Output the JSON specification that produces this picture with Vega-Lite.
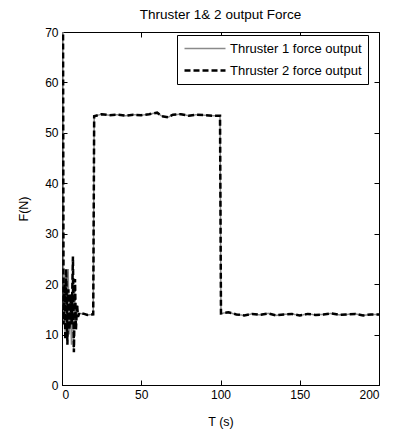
{
  "$schema": "https://vega.github.io/schema/vega-lite/v6.json",
  "autosize": {"type": "none"},
  "width": 317,
  "height": 353,
  "padding": {"left": 62, "top": 32, "right": 14, "bottom": 47},
  "background": "white",
  "config": {
    "font": "Liberation Sans",
    "view": {"stroke": "black", "strokeWidth": 1},
    "axis": {"grid": false, "domainColor": "black", "tickColor": "black", "labelColor": "black", "titleColor": "black", "labelFont": "Liberation Sans", "titleFont": "Liberation Sans", "labelFontSize": 12, "titleFontSize": 12.5, "titleFontWeight": "normal", "tickSize": -5}
  },
  "title": {"text": "Thruster 1& 2 output Force", "fontSize": 13.5, "fontWeight": "normal", "font": "Liberation Sans", "color": "black", "offset": 5},
  "data": {"values": [
    {"s": "Thruster 1 force output", "t": 0, "f": 80},
    {"s": "Thruster 1 force output", "t": 0.5, "f": 80},
    {"s": "Thruster 1 force output", "t": 0.9, "f": 15},
    {"s": "Thruster 1 force output", "t": 1.4, "f": 22},
    {"s": "Thruster 1 force output", "t": 2.0, "f": 10},
    {"s": "Thruster 1 force output", "t": 2.6, "f": 20},
    {"s": "Thruster 1 force output", "t": 3.2, "f": 9},
    {"s": "Thruster 1 force output", "t": 3.9, "f": 23},
    {"s": "Thruster 1 force output", "t": 4.5, "f": 10},
    {"s": "Thruster 1 force output", "t": 5.2, "f": 17},
    {"s": "Thruster 1 force output", "t": 6.0, "f": 8},
    {"s": "Thruster 1 force output", "t": 6.6, "f": 22},
    {"s": "Thruster 1 force output", "t": 7.3, "f": 7},
    {"s": "Thruster 1 force output", "t": 7.9, "f": 19},
    {"s": "Thruster 1 force output", "t": 8.6, "f": 12},
    {"s": "Thruster 1 force output", "t": 9.2, "f": 15},
    {"s": "Thruster 1 force output", "t": 9.9, "f": 14},
    {"s": "Thruster 1 force output", "t": 11, "f": 14.2},
    {"s": "Thruster 1 force output", "t": 14, "f": 14.1},
    {"s": "Thruster 1 force output", "t": 16, "f": 13.9},
    {"s": "Thruster 1 force output", "t": 19.7, "f": 14},
    {"s": "Thruster 1 force output", "t": 20.3, "f": 53.3},
    {"s": "Thruster 1 force output", "t": 25, "f": 53.7},
    {"s": "Thruster 1 force output", "t": 30, "f": 53.5},
    {"s": "Thruster 1 force output", "t": 35, "f": 53.6},
    {"s": "Thruster 1 force output", "t": 40, "f": 53.4},
    {"s": "Thruster 1 force output", "t": 45, "f": 53.6},
    {"s": "Thruster 1 force output", "t": 50, "f": 53.5},
    {"s": "Thruster 1 force output", "t": 55, "f": 53.7},
    {"s": "Thruster 1 force output", "t": 60, "f": 54},
    {"s": "Thruster 1 force output", "t": 63, "f": 53.3},
    {"s": "Thruster 1 force output", "t": 67, "f": 53.1},
    {"s": "Thruster 1 force output", "t": 70, "f": 53.6},
    {"s": "Thruster 1 force output", "t": 75, "f": 53.7},
    {"s": "Thruster 1 force output", "t": 80, "f": 53.4},
    {"s": "Thruster 1 force output", "t": 85, "f": 53.6},
    {"s": "Thruster 1 force output", "t": 90, "f": 53.5},
    {"s": "Thruster 1 force output", "t": 95, "f": 53.4},
    {"s": "Thruster 1 force output", "t": 99.7, "f": 53.4},
    {"s": "Thruster 1 force output", "t": 100.3, "f": 14.2},
    {"s": "Thruster 1 force output", "t": 105, "f": 14.4},
    {"s": "Thruster 1 force output", "t": 110, "f": 14},
    {"s": "Thruster 1 force output", "t": 115, "f": 13.8},
    {"s": "Thruster 1 force output", "t": 120, "f": 14.1},
    {"s": "Thruster 1 force output", "t": 125, "f": 13.9},
    {"s": "Thruster 1 force output", "t": 130, "f": 14.2},
    {"s": "Thruster 1 force output", "t": 135, "f": 13.8},
    {"s": "Thruster 1 force output", "t": 140, "f": 14},
    {"s": "Thruster 1 force output", "t": 145, "f": 14.1},
    {"s": "Thruster 1 force output", "t": 150, "f": 13.8},
    {"s": "Thruster 1 force output", "t": 155, "f": 14.1},
    {"s": "Thruster 1 force output", "t": 160, "f": 13.9},
    {"s": "Thruster 1 force output", "t": 165, "f": 14},
    {"s": "Thruster 1 force output", "t": 170, "f": 14.2},
    {"s": "Thruster 1 force output", "t": 175, "f": 13.9},
    {"s": "Thruster 1 force output", "t": 180, "f": 14},
    {"s": "Thruster 1 force output", "t": 185, "f": 14.1},
    {"s": "Thruster 1 force output", "t": 190, "f": 13.8},
    {"s": "Thruster 1 force output", "t": 195, "f": 14},
    {"s": "Thruster 1 force output", "t": 200, "f": 14},
    {"s": "Thruster 2 force output", "t": 0, "f": 80},
    {"s": "Thruster 2 force output", "t": 0.6, "f": 80},
    {"s": "Thruster 2 force output", "t": 1.0, "f": 12},
    {"s": "Thruster 2 force output", "t": 1.6, "f": 20},
    {"s": "Thruster 2 force output", "t": 2.1, "f": 9},
    {"s": "Thruster 2 force output", "t": 2.7, "f": 23},
    {"s": "Thruster 2 force output", "t": 3.4, "f": 8},
    {"s": "Thruster 2 force output", "t": 4.0, "f": 19},
    {"s": "Thruster 2 force output", "t": 4.7, "f": 11},
    {"s": "Thruster 2 force output", "t": 5.5, "f": 18},
    {"s": "Thruster 2 force output", "t": 6.1, "f": 12},
    {"s": "Thruster 2 force output", "t": 6.9, "f": 25.5},
    {"s": "Thruster 2 force output", "t": 7.5, "f": 6.5},
    {"s": "Thruster 2 force output", "t": 8.2, "f": 21},
    {"s": "Thruster 2 force output", "t": 8.8, "f": 11},
    {"s": "Thruster 2 force output", "t": 9.5, "f": 16},
    {"s": "Thruster 2 force output", "t": 10.1, "f": 13.5},
    {"s": "Thruster 2 force output", "t": 11, "f": 14.3},
    {"s": "Thruster 2 force output", "t": 14, "f": 14.1},
    {"s": "Thruster 2 force output", "t": 16, "f": 13.9},
    {"s": "Thruster 2 force output", "t": 19.7, "f": 14},
    {"s": "Thruster 2 force output", "t": 20.3, "f": 53.3},
    {"s": "Thruster 2 force output", "t": 25, "f": 53.7},
    {"s": "Thruster 2 force output", "t": 30, "f": 53.5},
    {"s": "Thruster 2 force output", "t": 35, "f": 53.6},
    {"s": "Thruster 2 force output", "t": 40, "f": 53.4},
    {"s": "Thruster 2 force output", "t": 45, "f": 53.6},
    {"s": "Thruster 2 force output", "t": 50, "f": 53.5},
    {"s": "Thruster 2 force output", "t": 55, "f": 53.7},
    {"s": "Thruster 2 force output", "t": 60, "f": 54},
    {"s": "Thruster 2 force output", "t": 63, "f": 53.3},
    {"s": "Thruster 2 force output", "t": 67, "f": 53.1},
    {"s": "Thruster 2 force output", "t": 70, "f": 53.6},
    {"s": "Thruster 2 force output", "t": 75, "f": 53.7},
    {"s": "Thruster 2 force output", "t": 80, "f": 53.4},
    {"s": "Thruster 2 force output", "t": 85, "f": 53.6},
    {"s": "Thruster 2 force output", "t": 90, "f": 53.5},
    {"s": "Thruster 2 force output", "t": 95, "f": 53.4},
    {"s": "Thruster 2 force output", "t": 99.7, "f": 53.4},
    {"s": "Thruster 2 force output", "t": 100.3, "f": 14.2},
    {"s": "Thruster 2 force output", "t": 105, "f": 14.4},
    {"s": "Thruster 2 force output", "t": 110, "f": 14},
    {"s": "Thruster 2 force output", "t": 115, "f": 13.8},
    {"s": "Thruster 2 force output", "t": 120, "f": 14.1},
    {"s": "Thruster 2 force output", "t": 125, "f": 13.9},
    {"s": "Thruster 2 force output", "t": 130, "f": 14.2},
    {"s": "Thruster 2 force output", "t": 135, "f": 13.8},
    {"s": "Thruster 2 force output", "t": 140, "f": 14},
    {"s": "Thruster 2 force output", "t": 145, "f": 14.1},
    {"s": "Thruster 2 force output", "t": 150, "f": 13.8},
    {"s": "Thruster 2 force output", "t": 155, "f": 14.1},
    {"s": "Thruster 2 force output", "t": 160, "f": 13.9},
    {"s": "Thruster 2 force output", "t": 165, "f": 14},
    {"s": "Thruster 2 force output", "t": 170, "f": 14.2},
    {"s": "Thruster 2 force output", "t": 175, "f": 13.9},
    {"s": "Thruster 2 force output", "t": 180, "f": 14},
    {"s": "Thruster 2 force output", "t": 185, "f": 14.1},
    {"s": "Thruster 2 force output", "t": 190, "f": 13.8},
    {"s": "Thruster 2 force output", "t": 195, "f": 14},
    {"s": "Thruster 2 force output", "t": 200, "f": 14}
  ]},
  "layer": [
    {
      "mark": {"type": "line", "clip": true, "strokeCap": "butt", "strokeJoin": "miter"},
      "encoding": {
        "x": {"field": "t", "type": "quantitative", "scale": {"domain": [0, 200], "nice": false, "zero": false}, "axis": {"title": "T (s)", "values": [0, 50, 100, 150, 200], "labelPadding": 9, "titlePadding": 15, "orient": "bottom"}},
        "y": {"field": "f", "type": "quantitative", "scale": {"domain": [0, 70], "nice": false}, "axis": {"title": "F(N)", "values": [0, 10, 20, 30, 40, 50, 60, 70], "labelPadding": 9, "titlePadding": 14, "orient": "left"}},
        "color": {"field": "s", "type": "nominal", "scale": {"domain": ["Thruster 1 force output", "Thruster 2 force output"], "range": ["#8a8a8a", "#000000"]},
          "legend": {"title": null, "orient": "none", "legendX": 115, "legendY": 3, "strokeColor": "black", "fillColor": "white", "padding": 6, "clipHeight": 15, "labelFontSize": 13, "labelColor": "black", "labelFont": "Liberation Sans", "symbolType": "stroke", "symbolSize": 1681, "symbolStrokeWidth": 2.5, "rowPadding": 7, "labelOffset": 3, "cornerRadius": 0}},
        "strokeDash": {"field": "s", "type": "nominal", "scale": {"domain": ["Thruster 1 force output", "Thruster 2 force output"], "range": [[1, 0], [6, 3]]}, "legend": null},
        "strokeWidth": {"field": "s", "type": "nominal", "scale": {"domain": ["Thruster 1 force output", "Thruster 2 force output"], "range": [1.5, 2.5]}, "legend": null}
      }
    },
    {
      "mark": {"type": "rule", "opacity": 0},
      "data": {"values": [{"t": 0, "f": 0}]},
      "encoding": {
        "x": {"field": "t", "type": "quantitative", "axis": {"orient": "top", "labels": false, "title": null, "domain": false, "values": [0, 50, 100, 150, 200]}},
        "y": {"field": "f", "type": "quantitative", "axis": {"orient": "right", "labels": false, "title": null, "domain": false, "values": [0, 10, 20, 30, 40, 50, 60, 70]}}
      }
    }
  ],
  "resolve": {"axis": {"x": "independent", "y": "independent"}}
}
